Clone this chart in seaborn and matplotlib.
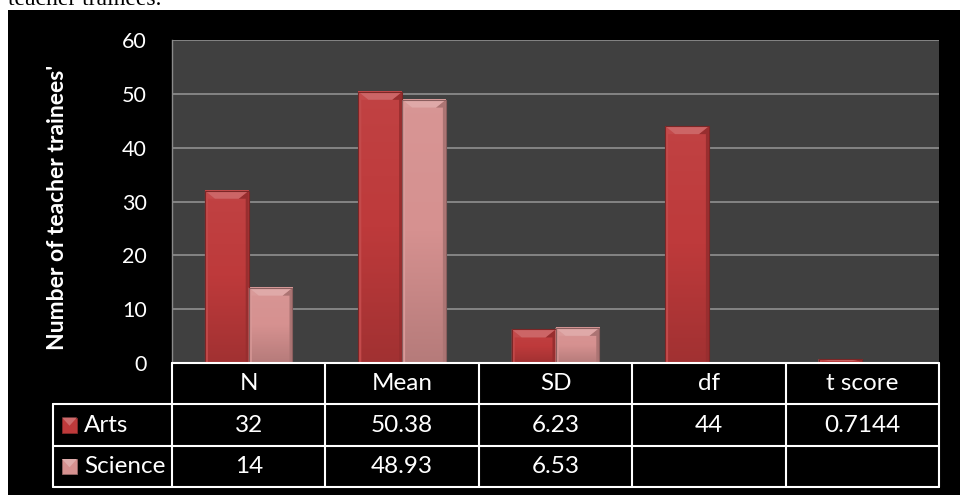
import numpy as np
import pandas as pd
import matplotlib
matplotlib.use("Agg")
import matplotlib.pyplot as plt
import seaborn as sns
from matplotlib.patches import Rectangle, Polygon
from matplotlib.lines import Line2D
from matplotlib.colors import to_rgb, LinearSegmentedColormap
import matplotlib.transforms as mtransforms

# ---------------- data ----------------
stats = ["N", "Mean", "SD", "df", "t score"]
groups = ["Arts", "Science"]
arts_values = [32, 50.38, 6.23, 44, 0.7144]
science_values = [14, 48.93, 6.53, np.nan, np.nan]
y_ticks = [0, 10, 20, 30, 40, 50, 60]
y_label = "Number of teacher trainees'"
caption_fragment = "teacher trainees."

arts_color = "#BE3A3B"
science_color = "#D69190"

df = pd.DataFrame({
    "stat": stats * 2,
    "group": ["Arts"] * len(stats) + ["Science"] * len(stats),
    "value": arts_values + science_values,
})

sns.set_style("dark")
plt.rcParams["font.family"] = ["Lato", "DejaVu Sans"]

W, H = 960, 495
fig = plt.figure(figsize=(W / 100, H / 100), dpi=100, facecolor="white")


def fx(px):
    return px / W


def fy(py):
    return 1 - py / H


def mix(c, other, t):
    c = np.array(to_rgb(c))
    o = np.array(to_rgb(other))
    return tuple(c * (1 - t) + o * t)


# black chart area and cropped caption above it
fig.add_artist(Rectangle((fx(8), 0), fx(960) - fx(8), fy(10),
                         transform=fig.transFigure, facecolor="black",
                         edgecolor="none", zorder=-5))
fig.text(fx(8), fy(5), caption_fragment, family="Liberation Serif",
         fontsize=17, color="black", va="baseline", ha="left")

L, R, T, B = 172, 939, 40, 363
ax = fig.add_axes([fx(L), fy(B), (R - L) / W, (B - T) / H])
ax.set_facecolor("#404040")

sns.barplot(data=df, x="stat", y="value", hue="group", order=stats,
            hue_order=groups, palette=[arts_color, science_color],
            width=0.571, saturation=1, errorbar=None, legend=False,
            ax=ax, linewidth=0)

ax.set_xlim(-0.5, len(stats) - 0.5)
ax.set_ylim(y_ticks[0], y_ticks[-1])
ax.set_yticks(y_ticks)
ax.set_xticks([])
ax.set_xlabel("")
ax.yaxis.grid(True, color="#8a8a8a", linewidth=1.3)
ax.xaxis.grid(False)
ax.set_axisbelow(True)
ax.tick_params(axis="y", length=0, pad=18, labelcolor="white", labelsize=15.5)
for s in ["top", "right", "bottom"]:
    ax.spines[s].set_visible(False)
ax.spines["left"].set_color("#8a8a8a")
ax.spines["left"].set_linewidth(1.0)

ax.set_ylabel(y_label, color="white", fontsize=16.5, fontweight="bold")
ax.yaxis.set_label_coords((58 - L) / (R - L), (B - 207) / (B - T))
ax.yaxis.label.set_va("center")

# bevel / gradient shading on bars
px_x = (len(stats)) / (R - L)
px_y = (y_ticks[-1] - y_ticks[0]) / (B - T)
for bar in list(ax.patches):
    h = bar.get_height()
    if not np.isfinite(h) or h <= 0:
        continue
    x0, w = bar.get_x(), bar.get_width()
    base = to_rgb(bar.get_facecolor())
    cmap = LinearSegmentedColormap.from_list(
        "g", [mix(base, "white", 0.04), base, mix(base, "black", 0.15)])
    ax.imshow(np.linspace(0, 1, 64).reshape(-1, 1), cmap=cmap,
              extent=(x0, x0 + w, 0, h), aspect="auto", origin="upper",
              interpolation="bilinear", zorder=1.1)
    by = min(8 * px_y, h * 0.5)
    bx = 10 * px_x
    sx = 3 * px_x
    ax.add_patch(Polygon([(x0, 0), (x0, h), (x0 + bx, h - by),
                          (x0 + sx, h - by), (x0 + sx, 0)],
                         closed=True, facecolor=mix(base, "white", 0.08),
                         edgecolor="none", zorder=1.2))
    ax.add_patch(Polygon([(x0 + w, 0), (x0 + w, h), (x0 + w - bx, h - by),
                          (x0 + w - sx, h - by), (x0 + w - sx, 0)],
                         closed=True, facecolor=mix(base, "black", 0.2),
                         edgecolor="none", zorder=1.2))
    ax.add_patch(Polygon([(x0, h), (x0 + w, h), (x0 + w - bx, h - by),
                          (x0 + bx, h - by)],
                         closed=True, facecolor=mix(base, "white", 0.22),
                         edgecolor="none", zorder=1.3))
    ax.add_patch(Rectangle((x0, 0), w, h, facecolor="none",
                           edgecolor=mix(base, "black", 0.35),
                           linewidth=0.8, zorder=1.4))

ax.set_xlim(-0.5, len(stats) - 0.5)
ax.set_ylim(y_ticks[0], y_ticks[-1])

# ---------------- data table ----------------
blend = mtransforms.blended_transform_factory(ax.transData, fig.transFigure)
row_y = [363, 404, 446, 487]
lw = 1.5
fig.add_artist(Line2D([fx(L), fx(R)], [fy(row_y[0])] * 2,
                      transform=fig.transFigure, color="white", lw=lw))
for yy in row_y[1:]:
    fig.add_artist(Line2D([fx(53), fx(R)], [fy(yy)] * 2,
                          transform=fig.transFigure, color="white", lw=lw))
for i in range(len(stats) + 1):
    fig.add_artist(Line2D([i - 0.5, i - 0.5], [fy(row_y[0]), fy(row_y[-1])],
                          transform=blend, color="white", lw=lw))
fig.add_artist(Line2D([fx(53), fx(53)], [fy(row_y[1]), fy(row_y[-1])],
                      transform=fig.transFigure, color="white", lw=lw))

table_fs = 17.5
centers = [(row_y[k] + row_y[k + 1]) / 2 for k in range(3)]
for i, s in enumerate(stats):
    fig.text(i, fy(centers[0]), s, transform=blend, ha="center",
             va="center", color="white", fontsize=table_fs)
for row, vals in zip([1, 2], [arts_values, science_values]):
    for i, v in enumerate(vals):
        if np.isfinite(v):
            fig.text(i, fy(centers[row]), f"{v:g}", transform=blend,
                     ha="center", va="center", color="white",
                     fontsize=table_fs)

for row, (g, col) in enumerate(zip(groups, [arts_color, science_color]), start=1):
    cy = centers[row]
    sq = 15
    x0p, y0p = 62, cy - sq / 2
    fig.add_artist(Rectangle((fx(x0p), fy(y0p + sq)), sq / W, sq / H,
                             transform=fig.transFigure, facecolor=col,
                             edgecolor=mix(col, "black", 0.3), lw=0.6))
    fig.add_artist(Polygon([(fx(x0p), fy(y0p)), (fx(x0p + sq), fy(y0p)),
                            (fx(x0p + sq / 2), fy(y0p + sq * 0.55))],
                           closed=True, transform=fig.transFigure,
                           facecolor=mix(col, "white", 0.25), edgecolor="none"))
    fig.text(fx(84), fy(cy), g, ha="left", va="center", color="white",
             fontsize=table_fs)

fig.savefig("out.png", dpi=100, facecolor="white")
